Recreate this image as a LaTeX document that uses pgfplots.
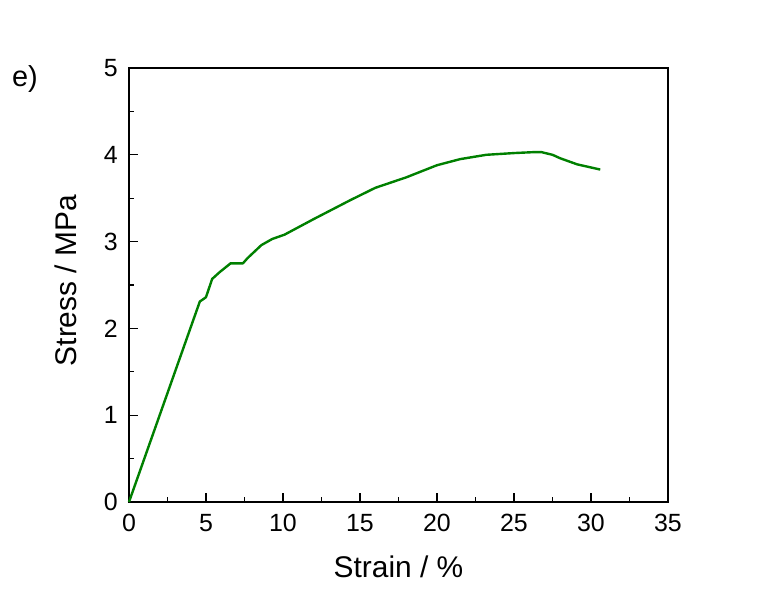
\documentclass[border=0pt]{standalone}
\usepackage{fontspec}
\setmainfont{Liberation Sans}
\usepackage{pgfplots}
\pgfplotsset{compat=1.18}
\definecolor{curvegreen}{RGB}{0,128,0}

\begin{document}
\begin{tikzpicture}
\path[use as bounding box] (-129bp,-101bp) rectangle (653bp,502bp);
\begin{axis}[
  at={(0,0)}, anchor=south west,
  scale only axis, width=539bp, height=434bp,
  xmin=0, xmax=35, ymin=0, ymax=5,
  xtick={0,5,...,35}, ytick={0,1,...,5},
  minor x tick num=1, minor y tick num=1,
  tick pos=left, tick align=inside,
  major tick length=9bp, minor tick length=5bp,
  axis line style={line width=1.6bp, black},
  every tick/.style={line width=1.3bp, black},
  /pgf/number format/assume math mode=true,
  ticklabel style={font=\fontsize{25}{30}\selectfont, inner sep=0pt},
  xticklabel style={anchor=north, yshift=-12bp},
  yticklabel style={anchor=east, xshift=-11bp},
  label style={font=\fontsize{30}{36}\selectfont, inner sep=0pt},
  xlabel={Strain / \%},
  xlabel style={at={(axis description cs:0.5,-0.1751)}, anchor=base},
  ylabel={Stress / MPa},
  ylabel style={at={(axis description cs:-0.0965,0.51)}, anchor=base},
  clip=false]
\addplot[color=curvegreen, line width=2.4bp, line join=round] coordinates {
  (0,0) (4.6,2.31) (4.85,2.34) (5.0,2.36) (5.4,2.57) (5.9,2.65)
  (6.6,2.75) (7.4,2.75) (7.7,2.81) (8.6,2.96) (9.3,3.03) (10.1,3.08)
  (12,3.26) (14.4,3.48) (16,3.62) (18,3.74) (20,3.88) (21.5,3.95)
  (23.2,4.00) (25,4.02) (26.2,4.03) (26.8,4.03) (27.5,4.00) (28,3.96)
  (29.1,3.89) (30.6,3.83)};
\node[anchor=base west, inner sep=0pt, font=\fontsize{29}{34}\selectfont]
  at (rel axis cs:-0.2171,0.9585) {e)};
\end{axis}
\end{tikzpicture}
\end{document}
